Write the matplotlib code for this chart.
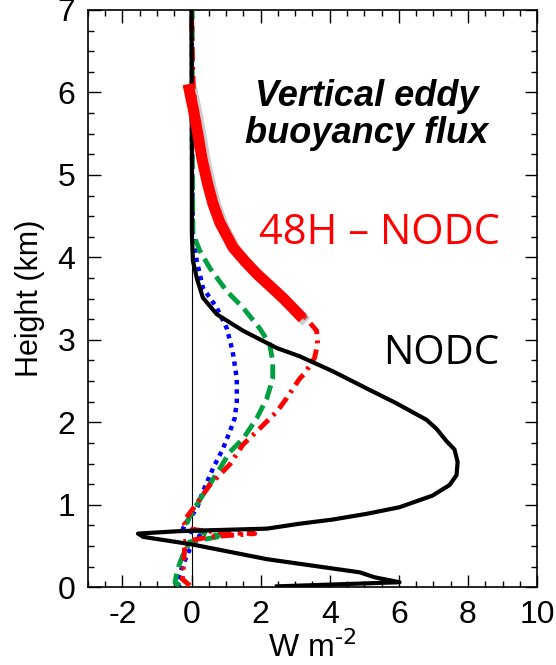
import matplotlib
matplotlib.use('Agg')
import matplotlib.pyplot as plt
import matplotlib.patheffects as pe
from matplotlib.ticker import MultipleLocator

# === Profiles (x: W m-2, y: height km) ===
nodc_x = [2.47, 6.02, 5.30, 4.87, 2.18, 0.0, -1.40, -1.55, -0.34, 2.18, 3.13, 4.08, 5.07,
          6.02, 6.97, 7.47, 7.67, 7.70, 7.61, 7.38, 7.09, 6.80, 5.93, 5.07, 4.08, 3.13,
          2.47, 1.49, 0.73, 0.33, 0.15, 0.04, 0.01, 0.01, 0.0]
nodc_y = [0.01, 0.06, 0.12, 0.18, 0.34, 0.52, 0.61, 0.65, 0.68, 0.71, 0.77, 0.82, 0.89,
          0.97, 1.11, 1.24, 1.36, 1.52, 1.67, 1.77, 1.92, 2.03, 2.23, 2.41, 2.62, 2.80,
          2.90, 3.11, 3.31, 3.51, 3.75, 3.96, 4.29, 5.30, 7.0]

h48_x = [-0.05, -0.27, -0.25, -0.20, -0.25, 0.53, 1.83, 1.00, 0.0, -0.25, 0.04, 0.53, 1.11,
         1.49, 1.89, 2.18, 2.47, 2.75, 3.13, 3.27, 3.56, 3.65, 3.62, 3.34, 2.64, 1.89, 1.20,
         0.82, 0.44, 0.18, 0.05, 0.02, 0.0]
h48_y = [0.02, 0.10, 0.15, 0.46, 0.55, 0.61, 0.65, 0.66, 0.70, 0.79, 0.95, 1.24, 1.49,
         1.73, 1.89, 2.01, 2.13, 2.29, 2.53, 2.59, 2.78, 2.95, 3.11, 3.25, 3.51, 3.80, 4.12,
         4.36, 4.90, 5.50, 6.10, 6.50, 7.0]

diff_x = [-0.10, 0.05, 0.18, 0.30, 0.46, 0.62, 0.82, 1.20, 1.55, 1.89, 2.28, 2.64, 3.22]
diff_y = [6.10, 5.80, 5.50, 5.20, 4.90, 4.65, 4.42, 4.12, 3.95, 3.80, 3.65, 3.51, 3.26]

green_x = [-0.34, -0.48, -0.40, -0.25, -0.05, 1.02, 0.53, 0.01, -0.14, 0.15, 0.44, 0.82, 1.11,
           1.49, 1.89, 2.18, 2.35, 2.35, 2.26, 1.97, 1.49, 1.02, 0.53, 0.24, 0.04, 0.02, 0.02]
green_y = [0.02, 0.06, 0.22, 0.39, 0.55, 0.63, 0.63, 0.71, 0.79, 1.00, 1.19, 1.44, 1.64,
           1.80, 2.05, 2.29, 2.53, 2.74, 2.95, 3.14, 3.39, 3.59, 3.87, 4.08, 4.29, 5.50, 7.0]

blue_x = [-0.34, -0.43, -0.25, -0.05, 0.15, 0.24, -0.25, -0.14, 0.15, 0.33, 0.62, 0.91,
          1.11, 1.25, 1.31, 1.31, 1.19, 1.02, 0.73, 0.33, 0.15, 0.04, 0.01, 0.01]
blue_y = [0.00, 0.06, 0.27, 0.46, 0.57, 0.63, 0.71, 0.79, 0.95, 1.16, 1.44, 1.68, 1.89,
          2.05, 2.25, 2.53, 2.86, 3.14, 3.39, 3.63, 3.96, 4.29, 5.50, 7.0]

plt.rcParams['font.family'] = ['Liberation Sans', 'DejaVu Sans']
plt.rcParams['axes.unicode_minus'] = False

fig = plt.figure(figsize=(5.56, 6.65), dpi=100)
ax = fig.add_axes([0.158, 0.117, 0.808, 0.868])

ax.axvline(0, color='black', lw=0.8, zorder=1)

ax.plot(blue_x, blue_y, color='#0000ff', lw=3.2, linestyle=(0, (1, 1.1)), zorder=2)
ax.plot(green_x, green_y, color='#00a040', lw=3.5, linestyle=(0, (3, 1.4)), zorder=3)
ax.plot(h48_x, h48_y, color='#ff0000', lw=3.5, linestyle=(0, (2.7, 1.3, 0.6, 1.3)), zorder=4)
ax.plot(nodc_x, nodc_y, color='black', lw=3.0, zorder=5)
ax.plot(diff_x, diff_y, color='#ff0000', lw=8, solid_capstyle='butt', zorder=6,
        path_effects=[pe.SimpleLineShadow(offset=(2.5, -2.5), shadow_color='gray', alpha=0.4),
                      pe.Normal()])

ax.set_xlim(-3, 10)
ax.set_ylim(0, 7)
ax.xaxis.set_major_locator(MultipleLocator(2))
ax.xaxis.set_minor_locator(MultipleLocator(0.5))
ax.yaxis.set_major_locator(MultipleLocator(1))
ax.yaxis.set_minor_locator(MultipleLocator(0.25))
ax.tick_params(which='both', direction='in', top=True, right=True, labelsize=23, width=1)
ax.tick_params(which='major', length=9, pad=9)
ax.tick_params(which='minor', length=4.5)
for s in ax.spines.values():
    s.set_linewidth(1.2)

ax.set_ylabel('Height (km)', fontsize=22, labelpad=9)
ax.set_xlabel(r'W m$^{\text{-2}}$', fontsize=23, labelpad=1)

ax.text(0.621, 0.818, 'Vertical eddy\nbuoyancy flux', transform=ax.transAxes, ha='center',
        va='center', fontsize=26, fontweight='bold', fontstyle='italic', linespacing=1.1)
ax.text(0.649, 0.613, '48H \u2013 NODC', transform=ax.transAxes, ha='center', va='center',
        fontsize=30, color='#ff0000', family=['Open Sans', 'DejaVu Sans'])
ax.text(0.787, 0.404, 'NODC', transform=ax.transAxes, ha='center', va='center',
        fontsize=29, color='black', family=['Open Sans', 'DejaVu Sans'])

plt.savefig('out.png', dpi=100)
plt.close(fig)
